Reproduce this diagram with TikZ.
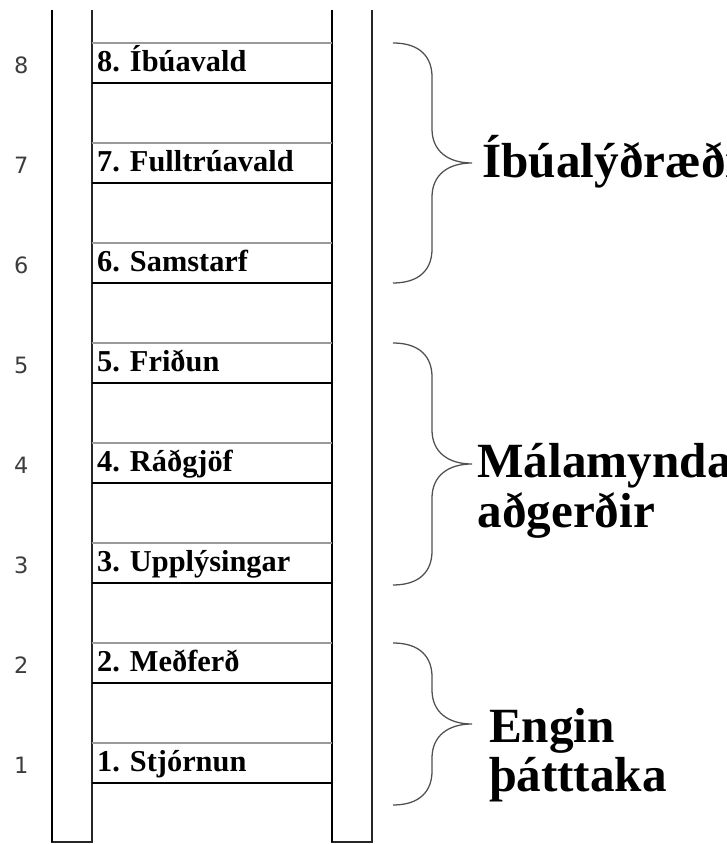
\documentclass[tikz,border=0pt]{standalone}
\usepackage{fontspec}
\setmainfont{Liberation Serif}
\newfontfamily\numfont{DejaVu Sans}
\usepackage{tikz}

\definecolor{rungtopgray}{HTML}{9A9A9A}
\definecolor{bracegray}{HTML}{505050}
\definecolor{numgray}{HTML}{3C3C3C}

\begin{document}
\begin{tikzpicture}[
	rail/.style={black!85, line width=1.4pt},
	railthick/.style={black, line width=2.1pt},
	rungtop/.style={rungtopgray, line width=1.4pt},
	rungbot/.style={black, line width=2.1pt},
	steplabel/.style={anchor=base west, inner sep=0pt, font=\bfseries\fontsize{21.6}{26}\selectfont},
	stepnum/.style={anchor=base, inner sep=0pt, text=numgray, font=\numfont\fontsize{16}{19}\selectfont},
	bracket/.style={bracegray, line width=0.9pt},
	grouplabel/.style={anchor=base west, inner sep=0pt, font=\bfseries\fontsize{35}{41}\selectfont}]
		\useasboundingbox (0,0) rectangle (18.15,21.1);
		\clip (0,0) rectangle (18.15,21.1);

		%rails
		\draw[rail] (1.3,20.85) -- (1.3,0.05) -- (2.3,0.05) -- (2.3,20.85);
		\draw[railthick] (1.3,20.85) -- (1.3,0.05);
		\draw[rail] (8.3,20.85) -- (8.3,0.05) -- (9.3,0.05) -- (9.3,20.85);
		\draw[railthick] (8.3,20.85) -- (8.3,0.05);

		%rungs
		\draw[rungtop] (2.3,20.025) -- (8.3,20.025);
		\draw[rungbot] (2.3,19.025) -- (8.3,19.025);
		\draw[rungtop] (2.3,17.525) -- (8.3,17.525);
		\draw[rungbot] (2.3,16.525) -- (8.3,16.525);
		\draw[rungtop] (2.3,15.025) -- (8.3,15.025);
		\draw[rungbot] (2.3,14.025) -- (8.3,14.025);
		\draw[rungtop] (2.3,12.525) -- (8.3,12.525);
		\draw[rungbot] (2.3,11.525) -- (8.3,11.525);
		\draw[rungtop] (2.3,10.025) -- (8.3,10.025);
		\draw[rungbot] (2.3,9.025) -- (8.3,9.025);
		\draw[rungtop] (2.3,7.525) -- (8.3,7.525);
		\draw[rungbot] (2.3,6.525) -- (8.3,6.525);
		\draw[rungtop] (2.3,5.025) -- (8.3,5.025);
		\draw[rungbot] (2.3,4.025) -- (8.3,4.025);
		\draw[rungtop] (2.3,2.525) -- (8.3,2.525);
		\draw[rungbot] (2.3,1.525) -- (8.3,1.525);

		%rung labels
		\node[steplabel] (step8) at (2.42,19.3) {8. Íbúavald};
		\node[steplabel] (step7) at (2.42,16.8) {7. Fulltrúavald};
		\node[steplabel] (step6) at (2.42,14.3) {6. Samstarf};
		\node[steplabel] (step5) at (2.42,11.8) {5. Friðun};
		\node[steplabel] (step4) at (2.42,9.3) {4. Ráðgjöf};
		\node[steplabel] (step3) at (2.42,6.8) {3. Upplýsingar};
		\node[steplabel] (step2) at (2.42,4.3) {2. Meðferð};
		\node[steplabel] (step1) at (2.42,1.8) {1. Stjórnun};

		%level numbers
		\node[stepnum] (num8) at (0.53,19.25) {8};
		\node[stepnum] (num7) at (0.53,16.75) {7};
		\node[stepnum] (num6) at (0.53,14.25) {6};
		\node[stepnum] (num5) at (0.53,11.75) {5};
		\node[stepnum] (num4) at (0.53,9.25) {4};
		\node[stepnum] (num3) at (0.53,6.75) {3};
		\node[stepnum] (num2) at (0.53,4.25) {2};
		\node[stepnum] (num1) at (0.53,1.75) {1};

		%braces
		\draw[bracket] (9.825,20.025) .. controls (10.5,20.025) and (10.8,19.675) .. (10.8,19.175) -- (10.8,17.875) .. controls (10.8,17.325) and (11.2,17.025) .. (11.8,17.025) .. controls (11.2,17.025) and (10.8,16.725) .. (10.8,16.175) -- (10.8,14.875) .. controls (10.8,14.375) and (10.5,14.025) .. (9.825,14.025);
		\draw[bracket] (9.825,12.525) .. controls (10.5,12.525) and (10.8,12.175) .. (10.8,11.675) -- (10.8,10.35) .. controls (10.8,9.8) and (11.2,9.5) .. (11.8,9.5) .. controls (11.2,9.5) and (10.8,9.2) .. (10.8,8.65) -- (10.8,7.325) .. controls (10.8,6.825) and (10.5,6.475) .. (9.825,6.475);
		\draw[bracket] (9.825,5.025) .. controls (10.5,5.025) and (10.8,4.675) .. (10.8,4.175) -- (10.8,3.85) .. controls (10.8,3.3) and (11.2,3.0) .. (11.8,3.0) .. controls (11.2,3.0) and (10.8,2.7) .. (10.8,2.15) -- (10.8,1.825) .. controls (10.8,1.325) and (10.5,0.975) .. (9.825,0.975);

		%group labels
		\node[grouplabel] (citizen) at (12.05,16.65) {Íbúalýðræði};
		\node[grouplabel] (token1) at (11.93,9.15) {Málamynda};
		\node[grouplabel] (token2) at (11.93,7.9) {aðgerðir};
		\node[grouplabel] (nonpart1) at (12.22,2.525) {Engin};
		\node[grouplabel] (nonpart2) at (12.22,1.3) {þátttaka};

		\end{tikzpicture}
\end{document}
